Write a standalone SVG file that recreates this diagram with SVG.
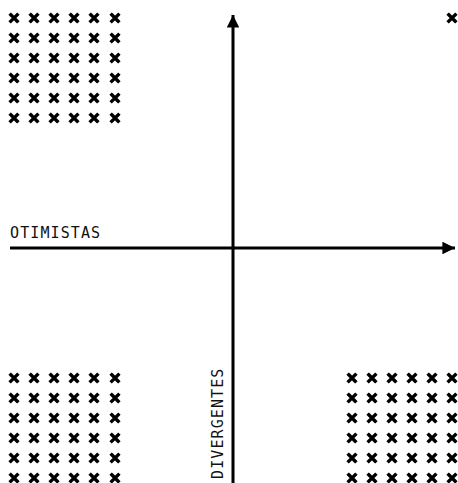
<svg xmlns="http://www.w3.org/2000/svg" width="458" height="483" viewBox="0 0 458 483">
<style>
.lbl{font-family:"DejaVu Sans Mono",monospace;font-size:15px;fill:#111;letter-spacing:1.1px}
.ax{stroke:#000;stroke-width:3;fill:none}
.x{stroke:#000;stroke-width:3.4;stroke-linecap:square}
</style>
<defs>
<g id="c"><path class="x" d="M-3.2,-3.2L3.2,3.2M3.2,-3.2L-3.2,3.2"/></g>
<marker id="ah" viewBox="0 0 10 10" refX="10" refY="5" markerWidth="4.2" markerHeight="4.2" orient="auto" markerUnits="strokeWidth"><path d="M0,0L10,5L0,10z" fill="#000"/></marker>
</defs>
<rect width="458" height="483" fill="#fff"/>
<g id="connectors">
<line class="ax" x1="233" y1="483" x2="233" y2="15" marker-end="url(#ah)"/>
<line class="ax" x1="10" y1="248" x2="455" y2="248" marker-end="url(#ah)"/>
</g>
<g id="label-otimistas"><text class="lbl" x="10" y="238">OTIMISTAS</text></g>
<g id="label-divergentes"><text class="lbl" transform="translate(223,479) rotate(-90)">DIVERGENTES</text></g>
<g id="grid-top-left">
<use href="#c" x="14" y="18"/><use href="#c" x="34" y="18"/><use href="#c" x="54" y="18"/><use href="#c" x="74" y="18"/><use href="#c" x="94" y="18"/><use href="#c" x="115" y="18"/>
<use href="#c" x="14" y="38"/><use href="#c" x="34" y="38"/><use href="#c" x="54" y="38"/><use href="#c" x="74" y="38"/><use href="#c" x="94" y="38"/><use href="#c" x="115" y="38"/>
<use href="#c" x="14" y="58"/><use href="#c" x="34" y="58"/><use href="#c" x="54" y="58"/><use href="#c" x="74" y="58"/><use href="#c" x="94" y="58"/><use href="#c" x="115" y="58"/>
<use href="#c" x="14" y="78"/><use href="#c" x="34" y="78"/><use href="#c" x="54" y="78"/><use href="#c" x="74" y="78"/><use href="#c" x="94" y="78"/><use href="#c" x="115" y="78"/>
<use href="#c" x="14" y="98"/><use href="#c" x="34" y="98"/><use href="#c" x="54" y="98"/><use href="#c" x="74" y="98"/><use href="#c" x="94" y="98"/><use href="#c" x="115" y="98"/>
<use href="#c" x="14" y="118"/><use href="#c" x="34" y="118"/><use href="#c" x="54" y="118"/><use href="#c" x="74" y="118"/><use href="#c" x="94" y="118"/><use href="#c" x="115" y="118"/>
</g>
<g id="top-right"><use href="#c" x="452" y="18"/></g>
<g id="grid-bottom-left">
<use href="#c" x="14" y="378"/><use href="#c" x="34" y="378"/><use href="#c" x="54" y="378"/><use href="#c" x="74" y="378"/><use href="#c" x="94" y="378"/><use href="#c" x="115" y="378"/>
<use href="#c" x="14" y="398"/><use href="#c" x="34" y="398"/><use href="#c" x="54" y="398"/><use href="#c" x="74" y="398"/><use href="#c" x="94" y="398"/><use href="#c" x="115" y="398"/>
<use href="#c" x="14" y="418"/><use href="#c" x="34" y="418"/><use href="#c" x="54" y="418"/><use href="#c" x="74" y="418"/><use href="#c" x="94" y="418"/><use href="#c" x="115" y="418"/>
<use href="#c" x="14" y="438"/><use href="#c" x="34" y="438"/><use href="#c" x="54" y="438"/><use href="#c" x="74" y="438"/><use href="#c" x="94" y="438"/><use href="#c" x="115" y="438"/>
<use href="#c" x="14" y="458"/><use href="#c" x="34" y="458"/><use href="#c" x="54" y="458"/><use href="#c" x="74" y="458"/><use href="#c" x="94" y="458"/><use href="#c" x="115" y="458"/>
<use href="#c" x="14" y="478"/><use href="#c" x="34" y="478"/><use href="#c" x="54" y="478"/><use href="#c" x="74" y="478"/><use href="#c" x="94" y="478"/><use href="#c" x="115" y="478"/>
</g>
<g id="grid-bottom-right">
<use href="#c" x="352" y="378"/><use href="#c" x="372" y="378"/><use href="#c" x="392" y="378"/><use href="#c" x="412" y="378"/><use href="#c" x="432" y="378"/><use href="#c" x="452" y="378"/>
<use href="#c" x="352" y="398"/><use href="#c" x="372" y="398"/><use href="#c" x="392" y="398"/><use href="#c" x="412" y="398"/><use href="#c" x="432" y="398"/><use href="#c" x="452" y="398"/>
<use href="#c" x="352" y="418"/><use href="#c" x="372" y="418"/><use href="#c" x="392" y="418"/><use href="#c" x="412" y="418"/><use href="#c" x="432" y="418"/><use href="#c" x="452" y="418"/>
<use href="#c" x="352" y="438"/><use href="#c" x="372" y="438"/><use href="#c" x="392" y="438"/><use href="#c" x="412" y="438"/><use href="#c" x="432" y="438"/><use href="#c" x="452" y="438"/>
<use href="#c" x="352" y="458"/><use href="#c" x="372" y="458"/><use href="#c" x="392" y="458"/><use href="#c" x="412" y="458"/><use href="#c" x="432" y="458"/><use href="#c" x="452" y="458"/>
<use href="#c" x="352" y="478"/><use href="#c" x="372" y="478"/><use href="#c" x="392" y="478"/><use href="#c" x="412" y="478"/><use href="#c" x="432" y="478"/><use href="#c" x="452" y="478"/>
</g>
</svg>
